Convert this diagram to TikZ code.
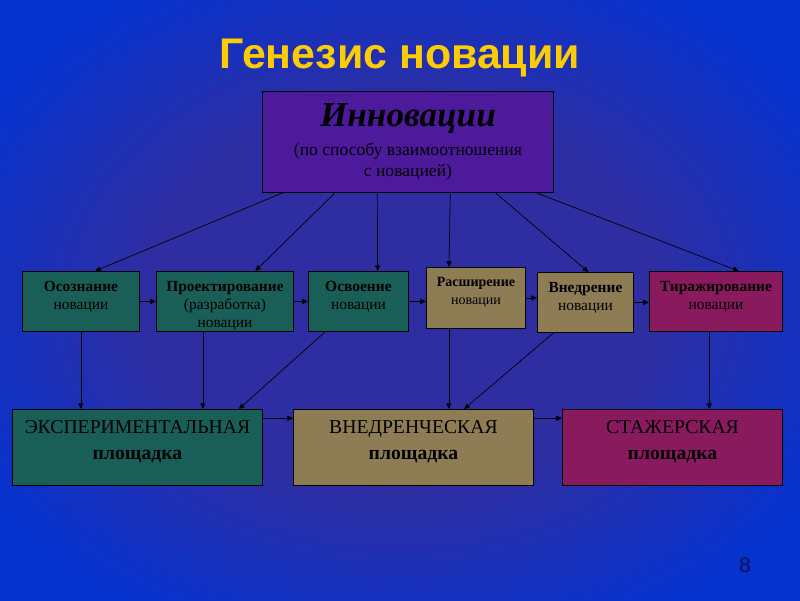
\documentclass[tikz,border=0pt]{standalone}
\usepackage{fontspec}
\setmainfont{Liberation Serif}
\newfontfamily\titlefont{Liberation Sans}
\usepackage{tikz}
\usetikzlibrary{arrows.meta, calc}
\definecolor{bgblue}{RGB}{6,50,206}
\definecolor{bgmid}{RGB}{46,46,162}
\definecolor{titleyellow}{RGB}{255,204,0}
\definecolor{topviolet}{RGB}{78,26,156}
\definecolor{boxteal}{RGB}{26,94,88}
\definecolor{boxtan}{RGB}{142,124,84}
\definecolor{boxberry}{RGB}{138,26,94}
\definecolor{pagenum}{RGB}{14,18,84}
\pgfdeclareradialshading{bgglow}{\pgfpoint{0bp}{0bp}}{color(0bp)=(bgmid); color(16bp)=(bgmid); color(30bp)=(bgblue); color(50bp)=(bgblue)}
% text block with fixed size, text at the top
\newcommand{\cell}[4][7pt]{\parbox[c][#3][t]{#2}{\centering\vspace*{#1}#4}}

\begin{document}
\begin{tikzpicture}[x=0.025cm, y=-0.025cm,
  box/.style={draw=black, line width=0.6pt, inner sep=0pt, anchor=north west},
  arr/.style={-{Triangle[length=4pt,width=3.6pt]}, line width=0.5pt, black},
  rowtext/.style={font=\fontsize{11}{13}\selectfont},
  padtext/.style={font=\fontsize{14}{18}\selectfont}]

% background
\fill[bgblue] (0,0) rectangle (800,600);
\shade[shading=bgglow] (0,0) rectangle (800,600);

\node[font=\titlefont\bfseries\fontsize{30.5}{36}\selectfont, text=titleyellow, anchor=base] (title) at (400,68) {Генезис новации};

% top box
\node[box, fill=topviolet, align=center, minimum width=7.275cm, minimum height=2.525cm, font=\fontsize{12.5}{15}\selectfont] (innov) at (262,91)
  {{\fontsize{25}{28}\selectfont\bfseries\itshape Инновации}\\[5pt] (по способу взаимоотношения\\ с новацией)};

% stages
\node[box, rowtext, fill=boxteal] (osozn) at (22,271) {\cell{2.925cm}{1.5cm}{\textbf{Осознание}\\новации}};
\node[box, rowtext, fill=boxteal] (proekt) at (156,271) {\cell{3.425cm}{1.5cm}{\textbf{Проектирование}\\(разработка)\\новации}};
\node[box, rowtext, fill=boxteal] (osvoen) at (308,271) {\cell{2.5cm}{1.5cm}{\textbf{Освоение}\\новации}};
\node[box, font=\fontsize{10}{12.5}\selectfont, fill=boxtan] (rasshir) at (426,267) {\cell{2.475cm}{1.525cm}{\textbf{Расширение}\\новации}};
\node[box, rowtext, fill=boxtan] (vnedr) at (537,272) {\cell{2.4cm}{1.5cm}{\textbf{Внедрение}\\новации}};
\node[box, rowtext, fill=boxberry] (tirazh) at (649,271) {\cell{3.325cm}{1.5cm}{\textbf{Тиражирование}\\новации}};

% sites
\node[box, padtext, fill=boxteal] (exper) at (12,409) {\cell[8pt]{6.25cm}{1.9cm}{ЭКСПЕРИМЕНТАЛЬНАЯ\\\textbf{площадка}}};
\node[box, padtext, fill=boxtan] (vnedrpl) at (293,409) {\cell[8pt]{6cm}{1.9cm}{ВНЕДРЕНЧЕСКАЯ\\\textbf{площадка}}};
\node[box, padtext, fill=boxberry] (stazh) at (562,409) {\cell[8pt]{5.5cm}{1.9cm}{СТАЖЕРСКАЯ\\\textbf{площадка}}};

\node[font=\titlefont\fontsize{15}{18}\selectfont, text=pagenum] (pnum) at (745,565) {8};

% arrows from the top box
\foreach \s/\t/\e in {0.07/osozn/0.62, 0.25/proekt/0.72, 0.395/osvoen/0.69, 0.645/rasshir/0.23, 0.8/vnedr/0.53, 0.94/tirazh/0.67}
  \draw[arr] ($(innov.south west)!\s!(innov.south east)$) -- ($(\t.north west)!\e!(\t.north east)$);

% arrows along the row
\foreach \a/\b in {osozn/proekt, proekt/osvoen, osvoen/rasshir, rasshir/vnedr, vnedr/tirazh}
  \draw[arr] (\a.east) -- (\a.east -| \b.west);

% arrows down to the sites
\coordinate (pr-out) at ($(proekt.south west)!0.34!(proekt.south east)$);
\coordinate (ra-out) at ($(rasshir.south west)!0.23!(rasshir.south east)$);
\coordinate (ti-out) at ($(tirazh.south west)!0.45!(tirazh.south east)$);
\draw[arr] (osozn.south) -- (osozn.south |- exper.north);
\draw[arr] (pr-out) -- (pr-out |- exper.north);
\draw[arr] ($(osvoen.south west)!0.17!(osvoen.south east)$) -- ($(exper.north west)!0.904!(exper.north east)$);
\draw[arr] (ra-out) -- (ra-out |- vnedrpl.north);
\draw[arr] ($(vnedr.south west)!0.17!(vnedr.south east)$) -- ($(vnedrpl.north west)!0.71!(vnedrpl.north east)$);
\draw[arr] (ti-out) -- (ti-out |- stazh.north);

% arrows between the sites
\coordinate (e1) at ($(exper.north east)!0.12!(exper.south east)$);
\coordinate (e2) at ($(vnedrpl.north east)!0.12!(vnedrpl.south east)$);
\draw[arr] (e1) -- (e1 -| vnedrpl.west);
\draw[arr] (e2) -- (e2 -| stazh.west);
\end{tikzpicture}
\end{document}
